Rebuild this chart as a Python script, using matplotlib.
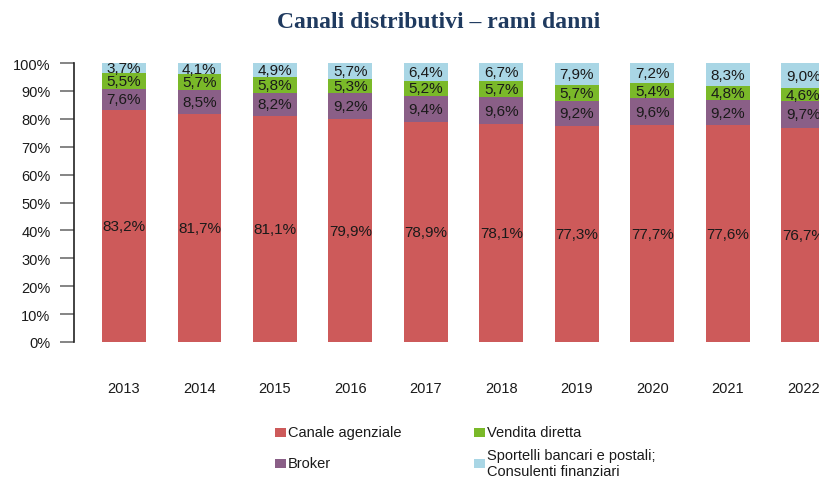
import matplotlib
matplotlib.use("Agg")
import matplotlib.pyplot as plt
from matplotlib.patches import Rectangle

years = ["2013", "2014", "2015", "2016", "2017", "2018", "2019", "2020", "2021", "2022"]
agenziale = [83.2, 81.7, 81.1, 79.9, 78.9, 78.1, 77.3, 77.7, 77.6, 76.7]
broker = [7.6, 8.5, 8.2, 9.2, 9.4, 9.6, 9.2, 9.6, 9.2, 9.7]
diretta = [5.5, 5.7, 5.8, 5.3, 5.2, 5.7, 5.7, 5.4, 4.8, 4.6]
sportelli = [3.7, 4.1, 4.9, 5.7, 6.4, 6.7, 7.9, 7.2, 8.3, 9.0]
y_ticks = [0, 10, 20, 30, 40, 50, 60, 70, 80, 90, 100]
series_names = ["Canale agenziale", "Broker", "Vendita diretta",
                "Sportelli bancari e postali;\nConsulenti finanziari"]
colors = ["#CD5A5A", "#8A5F87", "#7AB929", "#A9D6E5"]

plt.rcParams["font.family"] = ["Liberation Sans", "DejaVu Sans"]

W, H = 819, 481
fig = plt.figure(figsize=(W / 100, H / 100), dpi=100)
ax = fig.add_axes([74 / W, 138 / H, 779 / W, 279 / H])

series = [agenziale, broker, diretta, sportelli]
x = list(range(len(years)))
bottom = [0.0] * len(years)
for vals, col in zip(series, colors):
    ax.bar(x, vals, width=0.58, bottom=bottom, color=col, edgecolor="none")
    for xi, v, b in zip(x, vals, bottom):
        ax.text(xi, b + v / 2, f"{v:.1f}%".replace(".", ","), ha="center",
                va="center", fontsize=11, color="#1a1a1a")
    bottom = [b + v for b, v in zip(bottom, vals)]

ax.set_xlim(-0.662, 9.66)
ax.set_ylim(0, 100)
ax.set_yticks(y_ticks)
ax.set_yticklabels([f"{t}%" for t in y_ticks], fontsize=10.5, color="#1a1a1a")
ax.set_xticks(x)
ax.set_xticklabels(years, fontsize=10.5, color="#1a1a1a")
ax.tick_params(axis="x", length=0, pad=28)
ax.tick_params(axis="y", length=10, width=1.2, color="#707070", pad=7)
for s in ["top", "right", "bottom"]:
    ax.spines[s].set_visible(False)
ax.spines["left"].set_color("#222222")
ax.spines["left"].set_linewidth(1.2)

fig.text(439 / W, 1 - 22 / H, "Canali distributivi – rami danni",
         ha="center", va="center", fontsize=17, fontweight="bold",
         color="#1F3A5F", family=["Liberation Serif", "DejaVu Serif"])

# legend (manual, to match the reference's layout)
legend_pos = [(275, 433), (275, 464), (474, 433), (474, 464)]
for (lx, ly), name, col in zip(legend_pos, series_names, colors):
    fig.add_artist(Rectangle((lx / W, 1 - (ly + 4.5) / H), 11 / W, 9 / H,
                             transform=fig.transFigure, facecolor=col,
                             edgecolor="none"))
    fig.text((lx + 13) / W, 1 - ly / H, name, ha="left", va="center",
             fontsize=10.5, color="#1a1a1a", linespacing=1.25)

fig.savefig("out.png", dpi=100)
